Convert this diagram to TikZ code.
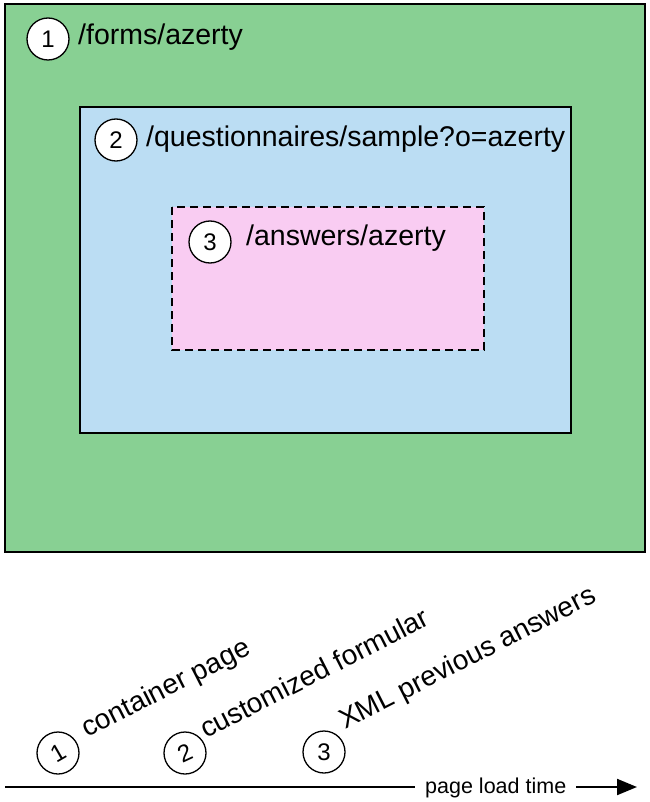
\documentclass[tikz,border=0pt]{standalone}
\usepackage{fontspec}
\setmainfont{Liberation Sans}
\usetikzlibrary{arrows.meta}
\definecolor{boxgreen}{HTML}{88D093}
\definecolor{boxblue}{HTML}{BBDDF3}
\definecolor{boxpink}{HTML}{F9CCF2}
\tikzset{
  numcirc/.style={circle,draw=black,line width=1.3pt,fill=white,minimum size=42pt,inner sep=0pt,font=\fontsize{24}{26}\selectfont},
  numcircb/.style={circle,draw=black,line width=1.3pt,minimum size=42pt,inner sep=0pt,font=\fontsize{24}{26}\selectfont},
  biglabel/.style={anchor=base west,inner sep=0pt,font=\fontsize{28.5}{30}\selectfont},
  slantlabel/.style={anchor=base west,inner sep=0pt,rotate=27,font=\fontsize{28}{30}\selectfont},
  boxframe/.style={draw=black,line width=1.5pt}
}
\begin{document}
\begin{tikzpicture}[x=1pt,y=-1pt]
\useasboundingbox (0,0) rectangle (649,802);
% boxes
\draw[boxframe,fill=boxgreen] (5,4) rectangle (645,552);
\draw[boxframe,fill=boxblue] (80,107) rectangle (571,433);
\draw[boxframe,fill=boxpink,dash pattern=on 8pt off 5pt] (172,207) rectangle (484,350);
% headings
\node[numcirc] (c1) at (48,39) {1};
\node[biglabel] (t1) at (78,45) {/forms/azerty};
\node[numcirc] (c2) at (116,140) {2};
\node[biglabel] (t2) at (146,147) {/questionnaires/sample?o=azerty};
\node[numcirc] (c3) at (210,242) {3};
\node[biglabel] (t3) at (246,245) {/answers/azerty};
% timeline
\node[numcircb] (b1) at (58,753) {\rotatebox{30}{1}};
\node[slantlabel] (l1) at (87,738) {container page};
\node[numcircb] (b2) at (185,753) {\rotatebox{25}{2}};
\node[slantlabel] (l2) at (206,739) {customized formular};
\node[numcircb] (b3) at (324,752) {3};
\node[slantlabel] (l3) at (345,730) {XML previous answers};
\coordinate (tl0) at (5,787);
\node[anchor=base west,inner sep=0pt,font=\fontsize{21.5}{24}\selectfont] (plt) at (425,793) {page load time};
\coordinate (arrEnd) at (637,787);
\draw[line width=2pt] (tl0) -- (415,787);
\draw[line width=2pt,-{Triangle[length=20pt,width=16pt]}] (576,787) -- (arrEnd);
\end{tikzpicture}
\end{document}
